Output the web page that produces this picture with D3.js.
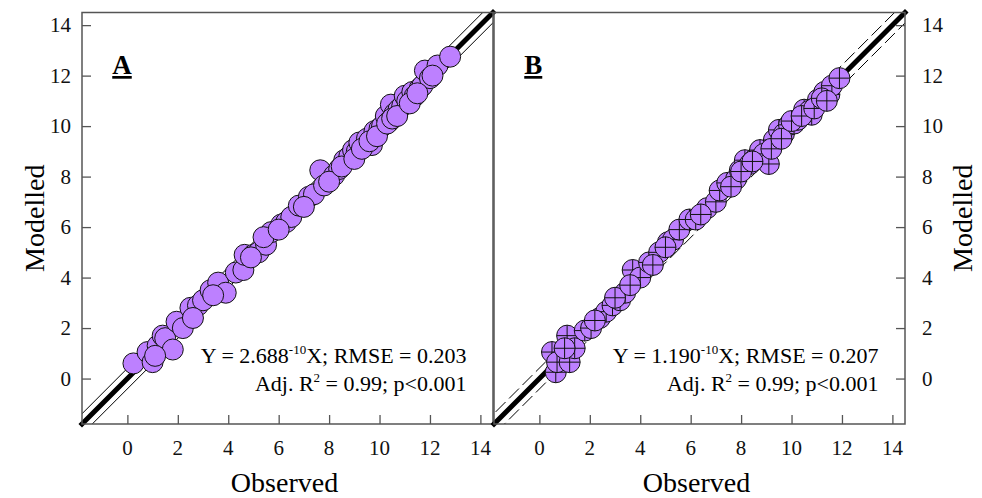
<!DOCTYPE html>
<html>
<head>
<meta charset="utf-8">
<script src="https://cdn.jsdelivr.net/npm/d3@7"></script>
<style>
  body { margin: 0; background: #fff; }
  svg text { font-family: "Liberation Serif", "Times New Roman", serif; }
</style>
</head>
<body>
<svg width="982" height="498"></svg>
<script>
// panel A: observed vs modelled
const observedA = [0.24, 0.8, 1.0, 1.2, 1.4, 1.5, 1.8, 1.95, 2.2, 2.5, 2.8, 3.0, 3.3, 3.6, 3.9,
  4.3, 4.6, 4.65, 5.0, 5.2, 5.5, 5.7, 6.1, 6.3, 6.5, 6.8, 7.2, 7.4, 7.65, 7.8, 8.2, 8.4, 8.6,
  8.8, 8.95, 9.1, 9.2, 9.4, 9.5, 9.7, 9.8, 10.0, 10.1, 10.25, 10.4, 10.45, 10.6, 10.75, 10.9,
  11.0, 11.1, 11.3, 11.4, 11.6, 11.7, 11.8, 12.0, 12.3, 12.8,
  1.1, 2.6, 3.4, 4.9, 5.4, 6.0, 7.0, 8.0, 8.5, 9.0, 9.3, 9.6, 9.9, 10.3, 10.5, 10.7, 11.2, 11.5, 12.1];
const modelledA = [0.6, 1.05, 0.65, 1.3, 1.7, 1.6, 1.15, 2.25, 2.0, 2.8, 2.9, 3.1, 3.5, 3.8, 3.4,
  4.2, 4.3, 4.9, 4.9, 5.0, 5.3, 5.8, 6.1, 6.2, 6.4, 6.85, 7.2, 7.3, 8.25, 7.65, 8.05, 8.3, 8.65,
  8.8, 9.05, 9.0, 9.35, 9.2, 9.5, 9.25, 9.8, 9.9, 10.0, 10.4, 10.2, 10.85, 10.5, 10.65, 10.8,
  11.2, 11.0, 11.35, 11.2, 11.5, 11.6, 12.2, 11.9, 12.4, 12.75,
  0.9, 2.4, 3.3, 4.8, 5.6, 5.9, 6.8, 7.8, 8.4, 8.7, 9.1, 9.4, 9.6, 10.1, 10.3, 10.4, 10.9, 11.3, 12.0];

// panel B: observed vs modelled
const observedB = [0.5, 0.65, 0.7, 1.1, 1.2, 1.4, 1.8, 2.05, 2.4, 2.65, 2.9, 3.2, 3.4, 3.7,
  4.0, 4.35, 4.75, 5.1, 5.3, 5.55, 5.95, 6.2, 6.65, 7.0, 7.15, 7.45, 7.8, 7.95, 8.15, 8.35,
  8.55, 8.75, 8.9, 9.1, 9.3, 9.5, 9.7, 9.9, 10.1, 10.25, 10.5, 10.7, 10.8, 11.05, 11.3, 11.5,
  11.6, 11.9,
  1.0, 2.2, 3.0, 3.6, 4.5, 5.0, 6.4, 7.6, 8.0, 8.45, 9.2, 9.6, 10.0, 10.4, 10.9, 11.2, 11.4];
const modelledB = [1.05, 0.25, 0.65, 1.7, 0.65, 1.2, 1.9, 2.0, 2.4, 2.65, 2.9, 3.1, 3.4, 4.3,
  4.0, 4.6, 5.0, 5.4, 5.5, 5.9, 6.3, 6.3, 6.75, 7.0, 7.45, 7.75, 7.9, 8.25, 8.65, 8.5,
  8.7, 9.05, 8.9, 8.5, 9.45, 9.85, 9.7, 10.05, 10.1, 10.25, 10.65, 10.6, 10.45, 11.05, 11.35, 11.25,
  11.6, 11.9,
  1.2, 2.3, 3.2, 3.7, 4.5, 5.2, 6.5, 7.6, 8.2, 8.6, 9.1, 9.5, 10.2, 10.4, 10.7, 11.1, 11.0];

const tickValues = [0, 2, 4, 6, 8, 10, 12, 14];
const domain = [-1.8, 14.5];

const panels = [
  { id: 'A', obs: observedA, mod: modelledA, slope: '2.688', rmse: '0.203', left: 82, right: 493, axis: 'left', dashed: false, cross: false },
  { id: 'B', obs: observedB, mod: modelledB, slope: '1.190', rmse: '0.207', left: 494, right: 905, axis: 'right', dashed: true, cross: true }
];

const plotTop = 12.5, plotBottom = 424;
const pointR = 10.5;
const svg = d3.select('svg');
const frameColor = '#555';

panels.forEach(p => {
  const x = d3.scaleLinear().domain(domain).range([p.left, p.right]);
  const y = d3.scaleLinear().domain(domain).range([plotBottom, plotTop]);
  const band = 2 * +p.rmse;

  const clipId = 'clip' + p.id;
  svg.append('clipPath').attr('id', clipId)
    .append('rect')
      .attr('x', p.left).attr('y', plotTop)
      .attr('width', p.right - p.left).attr('height', plotBottom - plotTop);

  const g = svg.append('g');
  const lines = g.append('g');
  const plot = g.append('g').attr('clip-path', `url(#${clipId})`);

  // 1:1 line with +/- 2 RMSE bands, drawn under the points
  const line = d3.line().x(d => x(d[0])).y(d => y(d[1]));
  [-band, band].forEach(off => {
    lines.append('path')
      .attr('clip-path', `url(#${clipId})`)
      .attr('d', line([[domain[0] - 1, domain[0] - 1 + off], [domain[1] + 1, domain[1] + 1 + off]]))
      .attr('fill', 'none')
      .attr('stroke', '#000')
      .attr('stroke-width', 1)
      .attr('stroke-dasharray', p.dashed ? '14,5' : null);
  });
  lines.append('path')
    .attr('d', line([[domain[0], domain[0]], [domain[1], domain[1]]]))
    .attr('stroke', '#000')
    .attr('stroke-width', 5)
    .attr('stroke-linecap', 'square');

  const pts = p.obs.map((o, i) => [o, p.mod[i]]);
  const dots = plot.selectAll('g.pt').data(pts).enter().append('g')
    .attr('class', 'pt')
    .attr('transform', d => `translate(${x(d[0])},${y(d[1])})`);
  dots.append('circle')
    .attr('r', pointR)
    .attr('fill', '#bd80ff')
    .attr('stroke', '#111')
    .attr('stroke-width', 1);
  if (p.cross) {
    dots.append('path')
      .attr('d', `M${-pointR},0H${pointR}M0,${-pointR}V${pointR}`)
      .attr('stroke', '#111')
      .attr('stroke-width', 1);
  }

  // axes with inward ticks
  const xAxis = d3.axisTop(x).tickValues(tickValues).tickSize(9).tickFormat('');
  g.append('g').attr('transform', `translate(0,${plotBottom})`).call(xAxis)
    .call(a => a.select('.domain').remove())
    .selectAll('line').attr('stroke', frameColor).attr('stroke-width', 1.3);

  const yAxis = (p.axis === 'left' ? d3.axisRight(y) : d3.axisLeft(y))
    .tickValues(tickValues).tickSize(9).tickFormat('');
  g.append('g').attr('transform', `translate(${p.axis === 'left' ? p.left : p.right},0)`).call(yAxis)
    .call(a => a.select('.domain').remove())
    .selectAll('line').attr('stroke', frameColor).attr('stroke-width', 1.3);

  // tick labels
  g.selectAll('text.xl').data(tickValues).enter().append('text')
    .attr('x', d => x(d)).attr('y', 455)
    .attr('text-anchor', 'middle')
    .attr('font-size', 21).attr('fill', '#111')
    .text(d => d);
  g.selectAll('text.yl').data(tickValues).enter().append('text')
    .attr('x', p.axis === 'left' ? 71 : 922)
    .attr('y', d => y(d) + 7)
    .attr('text-anchor', p.axis === 'left' ? 'end' : 'start')
    .attr('font-size', 21).attr('fill', '#111')
    .text(d => d);

  // frame
  g.append('rect')
    .attr('x', p.left).attr('y', plotTop)
    .attr('width', p.right - p.left).attr('height', plotBottom - plotTop)
    .attr('fill', 'none').attr('stroke', frameColor).attr('stroke-width', 1.5);

  // panel label
  g.append('text')
    .attr('x', x(-0.6)).attr('y', 74)
    .attr('font-size', 27).attr('font-weight', 'bold')
    .attr('text-decoration', 'underline')
    .text(p.id);

  // regression stats
  const eq = g.append('text')
    .attr('x', x(13.45)).attr('y', 363)
    .attr('text-anchor', 'end').attr('font-size', 22).attr('fill', '#000');
  eq.append('tspan').text(`Y = ${p.slope}`);
  eq.append('tspan').attr('dy', -9).attr('font-size', 13).text('-10');
  eq.append('tspan').attr('dy', 9).text(`X; RMSE = ${p.rmse}`);

  const r2 = g.append('text')
    .attr('x', x(13.45)).attr('y', 391)
    .attr('text-anchor', 'end').attr('font-size', 22).attr('fill', '#000');
  r2.append('tspan').text('Adj. R');
  r2.append('tspan').attr('dy', -9).attr('font-size', 13).text('2');
  r2.append('tspan').attr('dy', 9).text(' = 0.99; p<0.001');

  // axis titles
  g.append('text')
    .attr('x', (p.left + p.right) / 2 - 3).attr('y', 492)
    .attr('text-anchor', 'middle').attr('font-size', 28)
    .text('Observed');
  const tx = p.axis === 'left' ? 44 : 972;
  g.append('text')
    .attr('transform', `translate(${tx},${(plotTop + plotBottom) / 2}) rotate(-90)`)
    .attr('text-anchor', 'middle').attr('font-size', 28)
    .text('Modelled');
});
</script>
</body>
</html>
